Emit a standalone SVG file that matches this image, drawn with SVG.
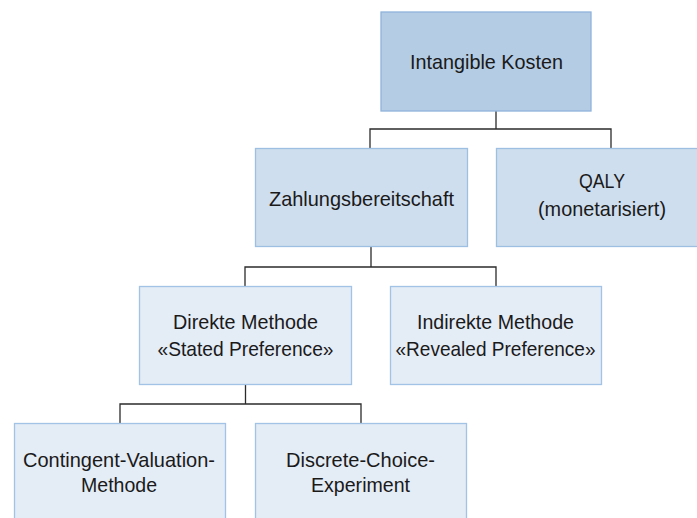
<svg xmlns="http://www.w3.org/2000/svg" width="697" height="518" viewBox="0 0 697 518">
<style>
.b1{fill:#b4cce4;stroke:#8fb3da;stroke-width:1.3}
.b2{fill:#cfdeee;stroke:#9dbfe2;stroke-width:1.3}
.b3{fill:#e4ecf6;stroke:#a3c3e6;stroke-width:1.3}
text{font-family:"Liberation Sans",Arial,sans-serif;font-size:21px;fill:#1a1a1a;text-anchor:middle}
.c{fill:none;stroke:#2b2b2b;stroke-width:1.3}
</style>
<rect width="697" height="518" fill="#ffffff"/>
<g id="connectors" class="c">
<path d="M496,111 V129 M370,148 V129 H611 V148"/>
<path d="M371,247 V267 M245,286 V267 H496 V286"/>
<path d="M245.5,385 V404 M120,423 V404 H361 V423"/>
</g>
<g id="intangible">
<rect class="b1" x="381" y="12" width="210" height="99"/>
<text x="486.5" y="69" textLength="153" lengthAdjust="spacingAndGlyphs">Intangible Kosten</text>
</g>
<g id="zahlung">
<rect class="b2" x="255.5" y="148.5" width="212" height="98"/>
<text x="361.5" y="206" textLength="185" lengthAdjust="spacingAndGlyphs">Zahlungsbereitschaft</text>
</g>
<g id="qaly">
<rect class="b2" x="496.5" y="148.5" width="212" height="98"/>
<text x="602" y="188" textLength="46" lengthAdjust="spacingAndGlyphs">QALY</text>
<text x="602" y="216" textLength="128" lengthAdjust="spacingAndGlyphs">(monetarisiert)</text>
</g>
<g id="direkt">
<rect class="b3" x="139.5" y="286.5" width="212" height="98"/>
<text x="245.5" y="329" textLength="145" lengthAdjust="spacingAndGlyphs">Direkte Methode</text>
<text x="245.5" y="356" textLength="176" lengthAdjust="spacingAndGlyphs">«Stated Preference»</text>
</g>
<g id="indirekt">
<rect class="b3" x="390.5" y="286.5" width="211" height="98"/>
<text x="495.5" y="329" textLength="157" lengthAdjust="spacingAndGlyphs">Indirekte Methode</text>
<text x="495.5" y="356" textLength="200" lengthAdjust="spacingAndGlyphs">«Revealed Preference»</text>
</g>
<g id="contingent">
<rect class="b3" x="14.5" y="423.5" width="211" height="100"/>
<text x="119" y="467" textLength="192" lengthAdjust="spacingAndGlyphs">Contingent-Valuation-</text>
<text x="119" y="492" textLength="76" lengthAdjust="spacingAndGlyphs">Methode</text>
</g>
<g id="discrete">
<rect class="b3" x="255.5" y="423.5" width="211" height="100"/>
<text x="360.5" y="467" textLength="149" lengthAdjust="spacingAndGlyphs">Discrete-Choice-</text>
<text x="360.5" y="492" textLength="99" lengthAdjust="spacingAndGlyphs">Experiment</text>
</g>
</svg>
